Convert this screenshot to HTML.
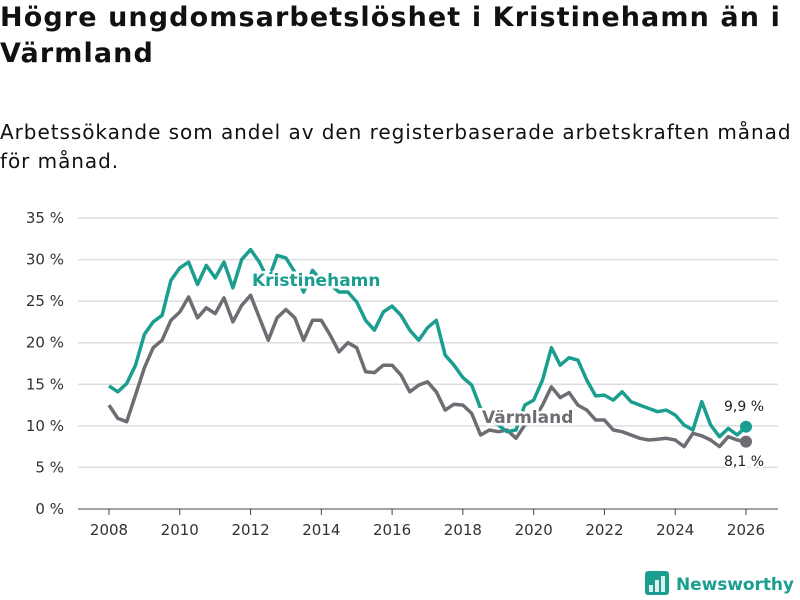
<!DOCTYPE html>
<html><head><meta charset="utf-8"><style>
body{margin:0;background:#fff;font-family:"Liberation Sans","DejaVu Sans",sans-serif;}
#c{position:relative;width:800px;height:600px;overflow:hidden;}
h1{position:absolute;left:0;top:0;margin:0;font:bold 27px/36px "DejaVu Sans","Liberation Sans",sans-serif;color:#111;letter-spacing:1.1px;width:800px;white-space:nowrap}
p{position:absolute;left:0;top:118px;margin:0;font:20px/29px "DejaVu Sans","Liberation Sans",sans-serif;color:#111;width:800px;letter-spacing:0.95px;white-space:nowrap}
</style></head><body>
<div id="c">
<h1>Högre ungdomsarbetslöshet i Kristinehamn än i<br>Värmland</h1>
<p>Arbetssökande som andel av den registerbaserade arbetskraften månad<br>för månad.</p>
<svg id="s" width="800" height="600" style="position:absolute;left:0;top:0"></svg>
</div>
<script>
const yTicks=[0,5,10,15,20,25,30,35];
const yTickLabels=["0 %","5 %","10 %","15 %","20 %","25 %","30 %","35 %"];
const xTicks=[2008,2010,2012,2014,2016,2018,2020,2022,2024,2026];
const startYear=2008, step=0.25;
const kristinehamn=[14.8,14.1,15.1,17.3,21,22.5,23.3,27.5,29,29.7,27,29.3,27.8,29.7,26.6,30,31.2,29.7,27.5,30.5,30.2,28.5,26.1,28.7,27.5,27,26.1,26.1,24.9,22.7,21.5,23.7,24.4,23.3,21.5,20.3,21.8,22.7,18.5,17.3,15.8,14.9,12.1,10.9,10.1,9.3,9.5,12.5,13.1,15.5,19.4,17.3,18.2,17.9,15.5,13.6,13.7,13.1,14.1,12.9,12.5,12.1,11.7,11.9,11.3,10.1,9.5,12.9,10.1,8.7,9.7,8.9,9.9];
const varmland=[12.5,10.9,10.5,13.7,17,19.4,20.3,22.7,23.7,25.5,23,24.2,23.5,25.4,22.5,24.5,25.7,23,20.3,23,24,23,20.3,22.7,22.7,20.9,18.9,20,19.4,16.5,16.4,17.3,17.3,16.1,14.1,14.9,15.3,14.1,11.9,12.6,12.5,11.5,8.9,9.5,9.3,9.5,8.5,10.1,10.7,12.5,14.7,13.4,14,12.5,11.9,10.7,10.7,9.5,9.3,8.9,8.5,8.3,8.4,8.5,8.3,7.5,9.1,8.8,8.3,7.5,8.7,8.3,8.1];
const NS="http://www.w3.org/2000/svg",svg=document.getElementById('s');
const X=v=>109+(v-2008)*(637/18), Y=v=>509-v*(291/35);
function mk(t,a,p){const e=document.createElementNS(NS,t);for(const k in a)e.setAttribute(k,a[k]);(p||svg).appendChild(e);return e;}
yTicks.forEach((t,i)=>{
 const l=mk('line',{x1:78,x2:778,y1:Y(t),y2:Y(t),stroke:t===0?'#444':'#ddd','stroke-width':t===0?1:1.5});
 
 
 const tx=mk('text',{x:64,y:Y(t)+5,'text-anchor':'end','font-size':15,fill:'#333','font-family':'DejaVu Sans, sans-serif'});
 tx.textContent=yTickLabels[i];
 
 
});
xTicks.forEach(t=>{
 const l=mk('line',{x1:X(t),x2:X(t),y1:509,y2:515,stroke:'#444'});
 
 
 const tx=mk('text',{x:X(t),y:535,'text-anchor':'middle','font-size':15,fill:'#333','font-family':'DejaVu Sans, sans-serif'});
 tx.textContent=t;
 
 
});
function line(d,c,name){
 const pts=d.map((v,i)=>X(startYear+i*step).toFixed(1)+','+Y(v).toFixed(1)).join(' ');
 const p=mk('polyline',{points:pts,fill:'none',stroke:c,'stroke-width':3.5,'stroke-linejoin':'round'});
 
 
 const last=d.length-1;
 const dot=mk('circle',{cx:X(startYear+last*step),cy:Y(d[last]),r:6,fill:c});
 
 
}
line(varmland,'#6e6d73','varmland');
line(kristinehamn,'#1a9e8f','kristinehamn');
function lab(x,y,t,c,fs,w,name){
 const e=mk('text',{x:x,y:y,'font-size':fs,'font-weight':w,fill:c,stroke:'#fff','stroke-width':w==='bold'?5:4,'paint-order':'stroke','font-family':'DejaVu Sans, sans-serif'});
 e.textContent=t;
 
 
}
lab(252,286,'Kristinehamn','#1a9e8f',17,'bold','kristinehamn-label');
lab(482,423,'Värmland','#6e6d73',17,'bold','varmland-label');
const kl=kristinehamn[kristinehamn.length-1], vl=varmland[varmland.length-1];
lab(724,411,String(kl).replace('.',',')+' %','#222',14,'normal','kristinehamn-end-value');
lab(724,466,String(vl).replace('.',',')+' %','#222',14,'normal','varmland-end-value');
const g=mk('g',{});


mk('rect',{x:645,y:571,width:24,height:24,rx:3,fill:'#1a9e8f'},g);
[[649,585,4,7],[655,580,4,12],[661,576,4,16]].forEach(r=>mk('rect',{x:r[0],y:r[1],width:r[2],height:r[3],fill:'#fff',opacity:0.85},g));
const lt=mk('text',{x:676,y:590,'font-size':17,'font-weight':'bold',fill:'#1a9e8f','font-family':'DejaVu Sans, sans-serif','textLength':118},g);
lt.textContent='Newsworthy';
</script>
</body></html>
